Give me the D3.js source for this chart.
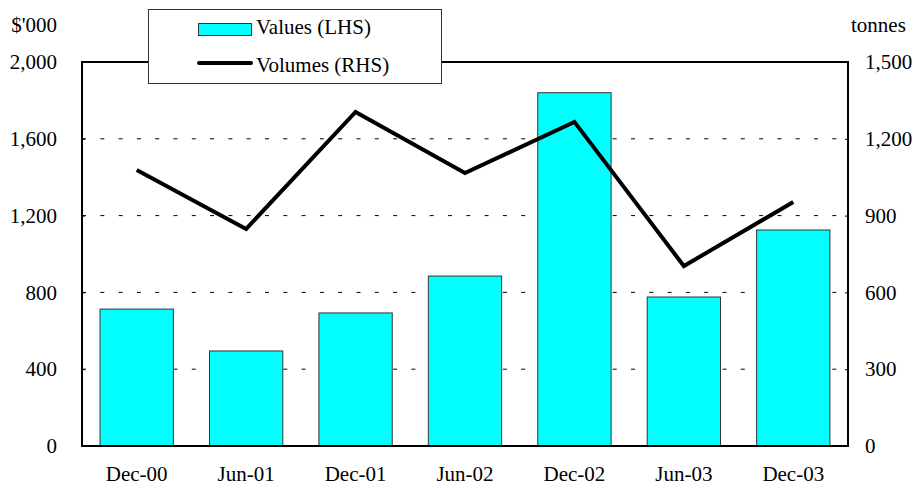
<!DOCTYPE html>
<html>
<head>
<meta charset="utf-8">
<script src="https://cdn.jsdelivr.net/npm/d3@7"></script>
<style>
  body { margin: 0; background: #fff; }
</style>
</head>
<body>
<svg id="chart" width="914" height="488"></svg>
<script>
const periods = ["Dec-00", "Jun-01", "Dec-01", "Jun-02", "Dec-02", "Jun-03", "Dec-03"];
const values = [713, 495, 693, 885, 1840, 776, 1125];   // $'000, LHS
const volumes = [1078, 848, 1305, 1066, 1266, 703, 953]; // tonnes, RHS
const leftTicks = [0, 400, 800, 1200, 1600, 2000];
const rightTicks = [0, 300, 600, 900, 1200, 1500];

const margin = { top: 62, right: 66, bottom: 42, left: 82 };
const width = 914 - margin.left - margin.right;
const height = 488 - margin.top - margin.bottom;
const serif = "Liberation Serif";
const fontSize = 21;

const svg = d3.select("#chart");
const g = svg.append("g").attr("transform", `translate(${margin.left},${margin.top})`);

const x = d3.scaleBand().domain(periods).range([0, width]).paddingInner(0.33).paddingOuter(0.165);
const yL = d3.scaleLinear().domain([0, 2000]).range([height, 0]);
const yR = d3.scaleLinear().domain([0, 1500]).range([height, 0]);

// dotted gridlines
g.selectAll(".grid")
  .data(leftTicks.filter(d => d > 0 && d < 2000))
  .enter()
  .append("line")
  .attr("class", "grid")
  .attr("x1", 0)
  .attr("x2", width)
  .attr("y1", d => yL(d))
  .attr("y2", d => yL(d))
  .attr("stroke", "#000")
  .attr("stroke-width", 1)
  .attr("stroke-dasharray", "4,14.3");

// bars
g.selectAll(".bar")
  .data(values)
  .enter()
  .append("rect")
  .attr("class", "bar")
  .attr("x", (d, i) => x(periods[i]))
  .attr("width", x.bandwidth())
  .attr("y", d => yL(d))
  .attr("height", d => height - yL(d))
  .attr("fill", "#00ffff")
  .attr("stroke", "#333")
  .attr("stroke-width", 1);

// volume line
const line = d3.line()
  .x((d, i) => x(periods[i]) + x.bandwidth() / 2)
  .y(d => yR(d));

g.append("path")
  .datum(volumes)
  .attr("d", line)
  .attr("fill", "none")
  .attr("stroke", "#000")
  .attr("stroke-width", 4)
  .attr("stroke-linejoin", "miter");

// axes
const leftAxis = d3.axisLeft(yL).tickValues(leftTicks).tickSizeInner(-3).tickSizeOuter(0).tickPadding(25)
  .tickFormat(d3.format(","));
g.append("g").call(leftAxis)
  .attr("font-family", serif).attr("font-size", fontSize)
  .call(a => a.select(".domain").remove())
  .call(a => a.selectAll("line").attr("stroke-width", 1));

const rightAxis = d3.axisRight(yR).tickValues(rightTicks).tickSizeInner(-3).tickSizeOuter(0).tickPadding(17)
  .tickFormat(d3.format(","));
g.append("g").attr("transform", `translate(${width},0)`).call(rightAxis)
  .attr("font-family", serif).attr("font-size", fontSize)
  .call(a => a.select(".domain").remove())
  .call(a => a.selectAll("line").attr("stroke-width", 1));

const xAxis = d3.axisBottom(x).tickSize(0).tickPadding(20);
g.append("g").attr("transform", `translate(0,${height})`).call(xAxis)
  .attr("font-family", serif).attr("font-size", fontSize)
  .call(a => a.select(".domain").remove());

// frame
g.append("rect")
  .attr("x", 0).attr("y", 0)
  .attr("width", width).attr("height", height)
  .attr("fill", "none")
  .attr("stroke", "#000")
  .attr("stroke-width", 2);

// unit labels
const labels = svg.append("g").attr("font-family", serif).attr("font-size", fontSize);
labels.append("text").attr("x", 57).attr("y", 32).attr("text-anchor", "end").text("$'000");
labels.append("text").attr("x", 851).attr("y", 32).text("tonnes");

// legend
const legend = svg.append("g").attr("font-family", serif).attr("font-size", fontSize);
legend.append("rect")
  .attr("x", 148.5).attr("y", 9.5).attr("width", 293).attr("height", 74)
  .attr("fill", "#fff").attr("stroke", "#333").attr("stroke-width", 1);
legend.append("rect")
  .attr("x", 198.5).attr("y", 23.5).attr("width", 53).attr("height", 12)
  .attr("fill", "#00ffff").attr("stroke", "#333").attr("stroke-width", 1);
legend.append("text").attr("x", 256).attr("y", 34).text("Values (LHS)");
legend.append("line")
  .attr("x1", 199).attr("x2", 251).attr("y1", 63).attr("y2", 63)
  .attr("stroke", "#000").attr("stroke-width", 4).attr("stroke-linecap", "round");
legend.append("text").attr("x", 256).attr("y", 72).text("Volumes (RHS)");
</script>
</body>
</html>
